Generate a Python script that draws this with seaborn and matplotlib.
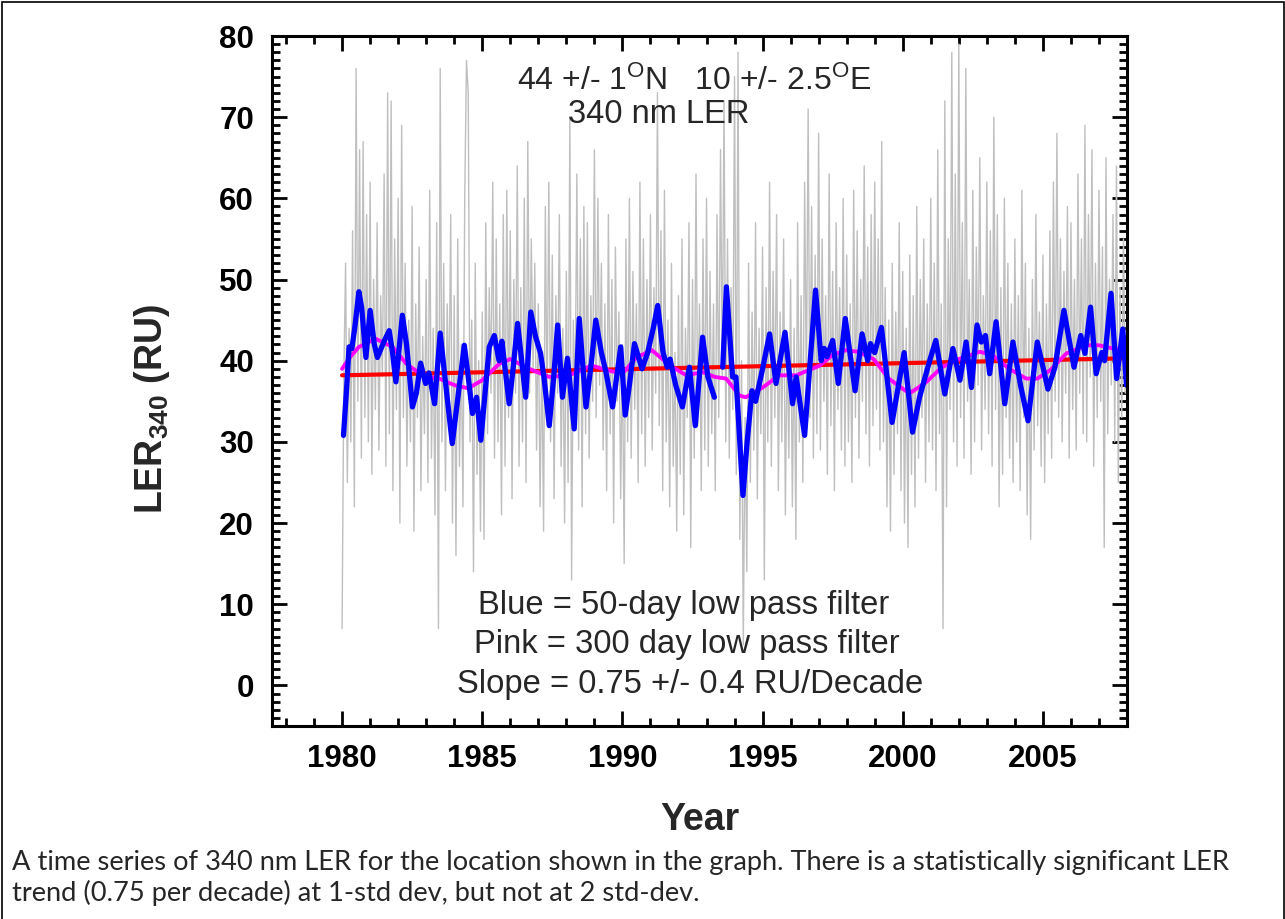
import numpy as np
import pandas as pd
import matplotlib
matplotlib.use("Agg")
import matplotlib.pyplot as plt
from matplotlib.patches import Rectangle
from matplotlib.ticker import MultipleLocator
import seaborn as sns

gray_vals = [
    7, 38, 52, 25, 44, 30, 56, 22, 76, 35, 66, 28, 67, 33, 58, 30,
    62, 26, 50, 34, 57, 29, 48, 38, 63, 27, 73, 31, 72, 24, 55, 34,
    60, 20, 69, 33, 52, 27, 45, 30, 59, 19, 47, 33, 54, 24, 43, 31,
    50, 25, 61, 28, 44, 21, 57, 7, 76, 30, 52, 24, 47, 35, 58, 20,
    48, 16, 55, 27, 42, 22, 60, 77, 73, 30, 45, 14, 52, 26, 40, 19,
    46, 18, 57, 31, 49, 36, 62, 28, 55, 30, 47, 21, 58, 27, 61, 33,
    56, 23, 50, 36, 64, 27, 49, 30, 60, 25, 67, 36, 55, 39, 52, 29,
    47, 22, 41, 19, 59, 33, 62, 30, 53, 23, 48, 36, 58, 27, 44, 20,
    51, 25, 70, 13, 45, 34, 63, 29, 55, 22, 59, 31, 57, 28, 48, 35,
    66, 33, 60, 37, 52, 29, 47, 24, 58, 31, 50, 20, 54, 35, 46, 23,
    42, 15, 55, 30, 60, 28, 51, 34, 47, 25, 62, 31, 55, 27, 50, 33,
    58, 29, 49, 36, 73, 32, 56, 24, 61, 30, 45, 22, 52, 27, 41, 19,
    48, 26, 55, 21, 44, 33, 57, 17, 50, 28, 63, 32, 47, 24, 55, 29,
    60, 27, 51, 31, 47, 24, 58, 33, 66, 38, 72, 30, 55, 28, 49, 34,
    75, 26, 78, 18, 40, 5, 33, 14, 52, 25, 46, 29, 57, 23, 44, 31,
    54, 13, 49, 30, 62, 27, 51, 33, 58, 24, 46, 30, 55, 21, 43, 28,
    50, 22, 44, 18, 57, 30, 48, 25, 62, 36, 71, 33, 59, 28, 53, 31,
    68, 29, 55, 35, 48, 26, 63, 32, 51, 24, 57, 34, 49, 29, 60, 27,
    53, 30, 47, 25, 61, 33, 56, 28, 50, 35, 64, 31, 54, 27, 58, 32,
    62, 34, 55, 29, 67, 30, 49, 22, 45, 19, 52, 26, 46, 31, 57, 24,
    51, 20, 44, 17, 53, 26, 48, 22, 59, 28, 50, 33, 55, 25, 47, 30,
    60, 29, 52, 24, 66, 31, 47, 7, 72, 22, 55, 34, 78, 30, 63, 27,
    79, 33, 57, 28, 76, 35, 50, 26, 61, 30, 54, 37, 65, 29, 48, 34,
    62, 31, 56, 27, 70, 34, 58, 22, 49, 26, 60, 33, 52, 28, 47, 25,
    55, 30, 48, 24, 61, 33, 52, 21, 44, 18, 50, 29, 58, 32, 46, 27,
    53, 25, 47, 31, 56, 28, 62, 35, 68, 33, 55, 30, 51, 36, 59, 28,
    57, 34, 50, 29, 63, 36, 55, 31, 69, 30, 58, 38, 66, 27, 52, 33,
    61, 35, 54, 17, 65, 31, 50, 37, 58, 30, 64, 25, 49, 33, 55, 36,
]

# 50-day low pass filter (blue)
blue_year = [
    1980.05, 1980.15, 1980.25, 1980.35, 1980.45, 1980.6, 1980.7, 1980.85, 1981.0, 1981.15,
    1981.26, 1981.5, 1981.68, 1981.8, 1981.92, 1982.05, 1982.15, 1982.3, 1982.51, 1982.65,
    1982.8, 1982.98, 1983.1, 1983.3, 1983.5, 1983.7, 1983.93, 1984.15, 1984.36, 1984.5,
    1984.65, 1984.8, 1984.95, 1985.1, 1985.25, 1985.43, 1985.6, 1985.7, 1985.96, 1986.1,
    1986.26, 1986.55, 1986.73, 1986.9, 1987.08, 1987.2, 1987.39, 1987.55, 1987.69, 1987.86,
    1988.04, 1988.28, 1988.46, 1988.7, 1988.9, 1989.05, 1989.25, 1989.4, 1989.65, 1989.94,
    1990.1, 1990.25, 1990.43, 1990.7, 1990.9, 1991.1, 1991.26, 1991.45, 1991.6, 1991.7,
    1991.9, 1992.14, 1992.39, 1992.6, 1992.86, 1993.05, 1993.28,
    1993.58, 1993.71, 1993.93, 1994.05, 1994.3, 1994.45, 1994.62, 1994.75, 1995.0, 1995.25,
    1995.48, 1995.8, 1996.07, 1996.2, 1996.5, 1996.7, 1996.89, 1997.09, 1997.2, 1997.3,
    1997.5, 1997.7, 1997.95, 1998.3, 1998.55, 1998.75, 1998.85, 1999.0, 1999.24, 1999.62,
    2000.05, 2000.35, 2000.6, 2000.96, 2001.18, 2001.5, 2001.79, 2002.04, 2002.26, 2002.45,
    2002.65, 2002.8, 2002.95, 2003.1, 2003.33, 2003.64, 2003.93, 2004.2, 2004.47, 2004.8,
    2005.18, 2005.43, 2005.75, 2006.11, 2006.35, 2006.5, 2006.7, 2006.9, 2007.1, 2007.2,
    2007.43, 2007.63, 2007.85, 2007.98,
]
blue_ler = [
    30.8, 36.0, 41.7, 41.5, 44.0, 48.5, 46.5, 40.4, 46.2, 42.0,
    40.4, 42.4, 43.7, 41.0, 37.4, 42.0, 45.6, 42.0, 34.3, 36.0,
    39.7, 37.2, 38.5, 34.7, 43.4, 37.0, 29.8, 36.0, 41.9, 38.0,
    33.5, 35.5, 30.2, 36.0, 41.7, 43.1, 40.0, 42.4, 34.7, 39.0,
    44.6, 35.5, 46.0, 43.0, 40.9, 38.0, 32.0, 38.0, 44.4, 35.5,
    40.3, 31.6, 45.2, 34.3, 40.0, 45.0, 41.0, 38.8, 34.3, 41.7,
    33.3, 37.0, 42.1, 39.0, 41.0, 44.0, 46.8, 41.0, 39.2, 40.2,
    37.0, 34.3, 39.2, 32.0, 42.9, 38.0, 35.5,
    39.2, 49.1, 38.0, 38.0, 23.4, 30.0, 36.3, 35.0, 39.0, 43.3,
    37.2, 43.5, 34.7, 38.0, 30.8, 40.0, 48.7, 40.0, 41.5, 40.5,
    42.5, 37.2, 45.2, 36.3, 43.3, 40.0, 42.1, 41.0, 44.1, 32.4,
    41.0, 31.2, 35.5, 40.0, 42.5, 35.9, 41.5, 37.6, 42.3, 36.7,
    44.4, 42.3, 43.1, 38.4, 44.8, 34.7, 42.3, 37.0, 32.6, 42.3,
    36.5, 39.2, 46.2, 39.2, 43.1, 40.9, 46.6, 38.4, 41.0, 40.0,
    48.3, 37.8, 43.9, 37.0,
]
blue_gap = 1993.45  # data gap in the filtered series

# 300-day low pass filter (pink)
pink_year = [
    1980.0, 1980.3, 1980.6, 1981.2, 1981.8, 1982.3, 1982.9, 1983.46, 1984.0, 1984.5,
    1985.0, 1985.6, 1986.0, 1986.68, 1987.39, 1988.1, 1988.9, 1989.5, 1990.0, 1990.5,
    1991.05, 1991.7, 1992.28, 1992.86, 1993.3, 1993.7, 1994.18, 1994.4, 1995.0, 1995.6,
    1996.2, 1997.04, 1997.5, 1997.98, 1998.4, 1998.96, 1999.5, 2000.1, 2000.3, 2000.85,
    2001.4, 2002.0, 2002.75, 2003.2, 2003.8, 2004.4, 2004.8, 2005.25, 2005.84, 2006.55,
    2007.0, 2007.5, 2007.95,
]
pink_ler = [
    39.0, 40.5, 41.7, 42.7, 41.7, 39.6, 38.1, 37.8, 37.0, 36.6,
    37.6, 39.6, 40.2, 39.0, 38.0, 38.2, 39.4, 38.8, 38.4, 40.4,
    41.3, 39.4, 38.2, 38.6, 38.0, 37.8, 35.7, 35.5, 36.7, 38.2,
    38.2, 39.4, 40.7, 41.3, 41.1, 40.2, 37.8, 36.3, 36.1, 37.4,
    39.2, 40.2, 41.1, 40.7, 39.0, 37.8, 37.8, 38.8, 40.9, 41.9,
    41.9, 41.5, 41.3,
]

# linear trend (red), 0.75 RU/decade
trend_year = [1980.0, 2008.0]
trend_ler = [38.2, 40.3]

caption = ("A time series of 340 nm LER for the location shown in the graph. There is a statistically significant LER\n"
           "trend (0.75 per decade) at 1-std dev, but not at 2 std-dev.")

sns.set_style("ticks")
plt.rcParams['font.family'] = ['Liberation Sans', 'DejaVu Sans']
plt.rcParams['mathtext.fontset'] = 'custom'
plt.rcParams['mathtext.rm'] = 'Liberation Sans'
plt.rcParams['mathtext.bf'] = 'Liberation Sans:bold'
plt.rcParams['mathtext.it'] = 'Liberation Sans:italic'

W, H = 1285, 919
fig = plt.figure(figsize=(W / 100, H / 100), dpi=100)
ax = fig.add_axes([272 / W, 1 - 726 / H, 855 / W, 690 / H])

gray_t = 1980 + np.arange(len(gray_vals)) / 16
sns.lineplot(x=gray_t, y=gray_vals, color='#bfbfbf', lw=1.0, ax=ax,
             estimator=None, sort=False)

sns.lineplot(x=trend_year, y=trend_ler, color='#ff0000', lw=3.0, ax=ax,
             estimator=None, sort=False)

sns.lineplot(x=pink_year, y=pink_ler, color='#ff00ff', lw=2.8, ax=ax,
             estimator=None, sort=False, solid_joinstyle='round')

blue = pd.DataFrame({'year': blue_year, 'ler': blue_ler})
blue['seg'] = (blue['year'] > blue_gap).astype(int)
sns.lineplot(data=blue, x='year', y='ler', units='seg', estimator=None,
             color='#0000ff', lw=3.8, ax=ax, sort=False,
             solid_joinstyle='round', solid_capstyle='round')

ax.set_xlim(1977.5, 2008)
ax.set_ylim(-5, 80)
ax.xaxis.set_minor_locator(MultipleLocator(1))
ax.yaxis.set_minor_locator(MultipleLocator(1))
ax.set_xticks([1980, 1985, 1990, 1995, 2000, 2005])
ax.set_yticks(range(0, 81, 10))
ax.set_xlabel('')
ax.set_ylabel('')

for s in ax.spines.values():
    s.set_visible(True)
    s.set_linewidth(2.2)
    s.set_color('black')
ax.tick_params(which='both', direction='in', top=True, right=True, width=2,
               colors='black')
ax.tick_params(which='major', length=10.5, labelsize=22.5, pad=13)
ax.tick_params(which='minor', length=5.5)
for lab in ax.get_xticklabels() + ax.get_yticklabels():
    lab.set_fontweight('bold')

# annotations inside the plot
ax.text(1992.57, 73.4, r'44 +/- 1$^{\mathrm{O}}$N   10 +/- 2.5$^{\mathrm{O}}$E',
        ha='center', va='baseline', fontsize=23)
ax.text(1991.3, 69.3, '340 nm LER', ha='center', va='baseline', fontsize=23.5)
ax.text(1992.2, 8.8, 'Blue = 50-day low pass filter', ha='center', va='baseline', fontsize=23.6)
ax.text(1992.3, 4.0, 'Pink = 300 day low pass filter', ha='center', va='baseline', fontsize=23.6)
ax.text(1992.4, -0.95, 'Slope = 0.75 +/- 0.4 RU/Decade', ha='center', va='baseline', fontsize=23.6)

fig.text(152 / W, 1 - 409 / H, r'LER$_{\mathbf{340}}$ (RU)', rotation=90,
         ha='center', va='center', fontsize=27, fontweight='bold')
fig.text(700 / W, 1 - 820 / H, 'Year', ha='center', va='center',
         fontsize=27, fontweight='bold')

fig.text(12 / W, 1 - 878 / H, caption, ha='left', va='center',
         fontsize=19.6, family=['Lato', 'DejaVu Sans'], linespacing=1.2)

fig.add_artist(Rectangle((1.5 / W, -0.05), 1 - 3 / W, 1.05 - 1.5 / H,
                         transform=fig.transFigure, fill=False,
                         ec='black', lw=1.2))

fig.savefig('out.png', dpi=100)
